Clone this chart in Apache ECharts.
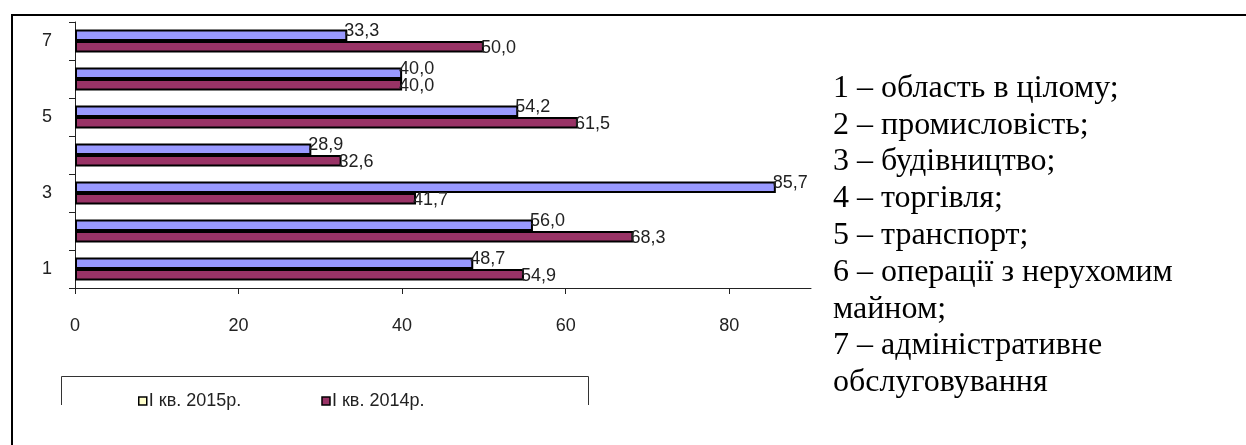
<!DOCTYPE html>
<html>
<head>
<meta charset="utf-8">
<style>
  html, body { margin: 0; padding: 0; background: #fff; }
  #chart { width: 1246px; height: 445px; }
</style>
<script src="https://cdn.jsdelivr.net/npm/echarts@6/dist/echarts.min.js"></script>
</head>
<body>
<div id="chart"></div>
<script>
// Sector numbers (bottom to top)
const categories = ['1', '2', '3', '4', '5', '6', '7'];
// Shares by sector, I quarter 2015 and I quarter 2014
const values2015 = [48.7, 56.0, 85.7, 28.9, 54.2, 40.0, 33.3];
const values2014 = [54.9, 68.3, 41.7, 32.6, 61.5, 40.0, 50.0];
const seriesNames = ['I кв. 2015р.', 'I кв. 2014р.'];
const xTicks = [0, 20, 40, 60, 80];
const notes = [
  '1 – область в цілому;',
  '2 – промисловість;',
  '3 – будівництво;',
  '4 – торгівля;',
  '5 – транспорт;',
  '6 – операції з нерухомим',
  'майном;',
  '7 – адміністративне',
  'обслуговування'
];

const fmt = p => p.value.toFixed(1).replace('.', ',');
const sans = '"Liberation Sans", Arial, sans-serif';

const chart = echarts.init(document.getElementById('chart'), null, { renderer: 'canvas' });

chart.setOption({
  animation: false,
  backgroundColor: '#ffffff',
  grid: { left: 75, right: 435, top: 22, bottom: 157, containLabel: false },
  xAxis: {
    type: 'value',
    min: 0,
    max: 90,
    interval: 20,
    splitLine: { show: false },
    axisLine: { show: true, lineStyle: { color: '#222', width: 1 } },
    axisTick: { show: true, length: 6, lineStyle: { color: '#222' }, customValues: xTicks },
    axisLabel: {
      customValues: xTicks,
      margin: 29,
      color: '#222',
      fontFamily: sans,
      fontSize: 18
    }
  },
  yAxis: {
    type: 'category',
    data: categories,
    axisLine: { show: true, lineStyle: { color: '#222', width: 1 } },
    axisTick: { show: true, length: 6, interval: 0, alignWithLabel: false, lineStyle: { color: '#222' } },
    axisLabel: { interval: 1, margin: 23, color: '#222', fontFamily: sans, fontSize: 18 },
    splitLine: { show: false }
  },
  legend: {
    left: 138,
    top: 392,
    padding: 0,
    itemWidth: 8,
    itemHeight: 8,
    itemGap: 80,
    icon: 'rect',
    itemStyle: { borderColor: '#000', borderWidth: 1.5 },
    textStyle: { color: '#222', fontFamily: sans, fontSize: 18, padding: [0, 0, 0, -3] },
    data: [
      { name: seriesNames[0], itemStyle: { color: '#FFFFCC' } },
      { name: seriesNames[1], itemStyle: { color: '#993366' } }
    ]
  },
  series: [
    {
      name: seriesNames[0],
      type: 'bar',
      data: values2015,
      barGap: '0%',
      barCategoryGap: '40%',
      itemStyle: { color: '#9999FF', borderColor: '#000', borderWidth: 2 },
      label: {
        show: true, position: 'right', distance: -3, offset: [0, -4],
        formatter: fmt, color: '#222', fontFamily: sans, fontSize: 18
      }
    },
    {
      name: seriesNames[1],
      type: 'bar',
      data: values2014,
      barGap: '0%',
      barCategoryGap: '40%',
      itemStyle: { color: '#993366', borderColor: '#000', borderWidth: 2 },
      label: {
        show: true, position: 'right', distance: -3, offset: [0, 1],
        formatter: fmt, color: '#222', fontFamily: sans, fontSize: 18
      }
    }
  ],
  graphic: [
    // outer frame: top and left edges
    { type: 'line', shape: { x1: 11, y1: 15, x2: 1246, y2: 15 }, style: { stroke: '#000', lineWidth: 2 } },
    { type: 'line', shape: { x1: 12, y1: 14, x2: 12, y2: 445 }, style: { stroke: '#000', lineWidth: 2 } },
    // legend frame
    { type: 'polyline', shape: { points: [[61.5, 405], [61.5, 376.5], [588.5, 376.5], [588.5, 405]] },
      style: { stroke: '#333', lineWidth: 1, fill: null } },
    // sector key
    { type: 'text', left: 833, top: 70,
      style: { text: notes.join('\n'), fill: '#000', font: '32px "Liberation Serif", "Times New Roman", serif', lineHeight: 36.8 } }
  ]
});
</script>
</body>
</html>
